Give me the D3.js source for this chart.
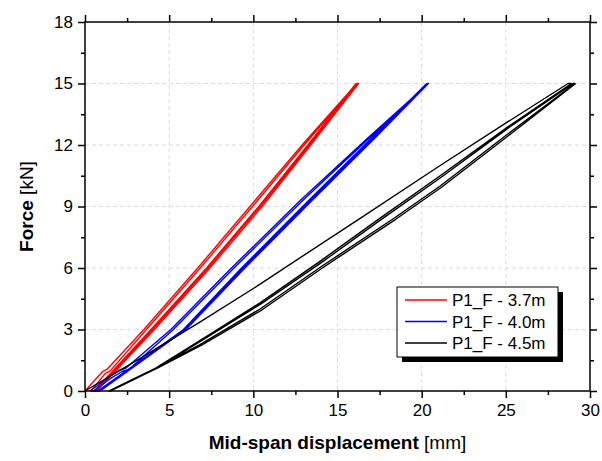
<!DOCTYPE html>
<html lang="en">
<head>
<meta charset="UTF-8">
<title>Force vs mid-span displacement</title>
<script src="https://d3js.org/d3.v7.min.js"></script>
<style>
  body { margin: 0; padding: 0; background: #fff; }
  svg { display: block; font-family: "Liberation Sans", Arial, sans-serif; }
</style>
</head>
<body>
<svg id="chart" width="602" height="461"></svg>
<script>
// Axis ticks
const xTicks = [0, 5, 10, 15, 20, 25, 30];
const yTicks = [0, 3, 6, 9, 12, 15, 18];

// Branches: [displacement mm, force kN]
// P1_F - 3.7m
const red1 = [[0,0],[1.03,0.94],[1.3,1.05],[3.5,3.0],[6.8,6.1],[9.9,9.1],[13.0,12.1],[16.15,15]];
const red2 = [[0.35,0],[1.2,0.85],[1.5,0.98],[3.65,3.0],[6.95,6.1],[10.05,9.1],[13.12,12.1],[16.15,15]];
const red3 = [[0.6,0],[4.0,3.0],[7.3,6.0],[10.5,9.1],[13.4,12.1],[16.2,15]];
const red4 = [[0.7,0],[4.12,3.0],[7.42,6.0],[10.62,9.1],[13.5,12.1],[16.25,15]];
const red5 = [[0.55,0],[3.92,3.0],[7.22,6.0],[10.42,9.1],[13.33,12.1],[16.1,15]];
// P1_F - 4.0m
const blue1 = [[0.3,0],[1.2,0.55],[2.0,1.0],[2.4,1.1],[5.1,3.0],[8.7,6.0],[12.8,9.3],[16.75,12.3],[20.4,15]];
const blue2 = [[0.5,0],[1.5,0.6],[2.2,0.95],[2.6,1.05],[5.25,3.0],[8.85,6.0],[12.95,9.3],[16.85,12.3],[20.4,15]];
const blue3 = [[0.8,0],[2.5,1.0],[5.9,3.0],[9.4,6.0],[13.4,9.3],[16.95,12.2],[20.35,15]];
const blue4 = [[0.9,0],[2.6,1.0],[6.0,3.0],[9.5,6.0],[13.5,9.3],[17.05,12.2],[20.4,15]];
const blue5 = [[0.75,0],[2.45,0.98],[5.85,3.0],[9.3,6.0],[13.3,9.3],[16.85,12.2],[20.3,15]];
// P1_F - 4.5m
const black1 = [[0,0],[3.3,1.6],[6.8,3.35],[10,5.0],[16.3,8.4],[21.1,11.0],[25.06,13.1],[28.7,15]];
const black2 = [[1.43,0],[4.2,1.12],[6.8,2.45],[10.4,4.3],[14,6.35],[17.3,8.3],[21.1,10.5],[25.06,12.85],[28.9,15]];
const black3 = [[1.43,0],[4.2,1.1],[6.8,2.25],[10.4,4.0],[14,6.05],[18.4,8.45],[21.1,10.0],[25.06,12.5],[29.1,15]];
const black4 = [[1.5,0],[4.25,1.1],[6.85,2.42],[10.5,4.27],[14.1,6.3],[17.4,8.25],[21.2,10.45],[25.1,12.8],[29.0,15]];
const black5 = [[1.45,0],[4.3,1.12],[6.9,2.22],[10.5,3.95],[14.1,6.0],[18.5,8.4],[21.2,9.95],[25.15,12.45],[29.15,15]];

const seriesNames = ["P1_F - 3.7m", "P1_F - 4.0m", "P1_F - 4.5m"];
const seriesColors = ["#ff0000", "#0000ff", "#000000"];
const seriesBranches = [
  [red1, red2, red3, red4, red5],
  [blue1, blue2, blue3, blue4, blue5],
  [black1, black2, black3, black4, black5]
];

const svg = d3.select("#chart");
const plot = { left: 85, right: 590, top: 22, bottom: 391 };

const x = d3.scaleLinear().domain([0, 30]).range([plot.left, plot.right]);
const y = d3.scaleLinear().domain([0, 18]).range([plot.bottom, plot.top]);

// dashed grid
const grid = svg.append("g").attr("stroke", "#dcdcdc").attr("stroke-dasharray", "4,3").attr("stroke-width", 1);
xTicks.slice(1, -1).forEach(t => {
  grid.append("line").attr("x1", x(t)).attr("x2", x(t)).attr("y1", plot.top).attr("y2", plot.bottom);
});
yTicks.slice(1, -1).forEach(t => {
  grid.append("line").attr("x1", plot.left).attr("x2", plot.right).attr("y1", y(t)).attr("y2", y(t));
});

// curves: loading branches forward, unloading branches reversed, chained into one path
const line = d3.line().x(d => x(d[0])).y(d => y(d[1]));
seriesBranches.forEach((branches, i) => {
  let pts = [];
  branches.forEach((b, j) => {
    pts = pts.concat(j % 2 === 0 ? b : b.slice().reverse());
  });
  svg.append("path")
    .attr("d", line(pts))
    .attr("fill", "none")
    .attr("stroke", seriesColors[i])
    .attr("stroke-width", 1.4)
    .attr("stroke-linejoin", "round");
});

// axes
const minorX = d3.range(0, 30.01, 2.5).filter(v => v % 5 !== 0);
const minorY = d3.range(0, 18.01, 1.5).filter(v => v % 3 !== 0);

function styleAxis(g) {
  g.selectAll(".domain").remove();
  g.selectAll("line").attr("stroke", "#000").attr("stroke-width", 1.5);
  g.selectAll("text").attr("font-size", 17).attr("fill", "#000");
}

svg.append("g").attr("transform", `translate(0,${plot.bottom})`)
  .call(d3.axisBottom(x).tickValues(xTicks).tickSize(7).tickPadding(6).tickFormat(d3.format("d")))
  .call(styleAxis);
svg.append("g").attr("transform", `translate(0,${plot.bottom})`)
  .call(d3.axisBottom(x).tickValues(minorX).tickSize(4).tickFormat(""))
  .call(styleAxis);
svg.append("g").attr("transform", `translate(${plot.left},0)`)
  .call(d3.axisLeft(y).tickValues(yTicks).tickSize(7).tickPadding(5).tickFormat(d3.format("d")))
  .call(styleAxis);
svg.append("g").attr("transform", `translate(${plot.left},0)`)
  .call(d3.axisLeft(y).tickValues(minorY).tickSize(4).tickFormat(""))
  .call(styleAxis);
svg.append("g").attr("transform", `translate(${plot.right},0)`)
  .call(d3.axisRight(y).tickValues(yTicks).tickSize(7).tickFormat(""))
  .call(styleAxis);
svg.append("g").attr("transform", `translate(${plot.right},0)`)
  .call(d3.axisRight(y).tickValues(minorY).tickSize(4).tickFormat(""))
  .call(styleAxis);
svg.append("g").attr("transform", `translate(0,${plot.top})`)
  .call(d3.axisTop(x).tickValues(xTicks).tickSize(7).tickFormat(""))
  .call(styleAxis);
svg.append("g").attr("transform", `translate(0,${plot.top})`)
  .call(d3.axisTop(x).tickValues(minorX).tickSize(4).tickFormat(""))
  .call(styleAxis);

// frame
svg.append("rect")
  .attr("x", plot.left).attr("y", plot.top)
  .attr("width", plot.right - plot.left).attr("height", plot.bottom - plot.top)
  .attr("fill", "none").attr("stroke", "#000").attr("stroke-width", 1.5);

// axis titles
const xt = svg.append("text")
  .attr("x", (plot.left + plot.right) / 2).attr("y", 449)
  .attr("text-anchor", "middle").attr("font-size", 19);
xt.append("tspan").attr("font-weight", "bold").text("Mid-span displacement");
xt.append("tspan").text(" [mm]");

const yt = svg.append("text")
  .attr("transform", `translate(33,${(plot.top + plot.bottom) / 2}) rotate(-90)`)
  .attr("text-anchor", "middle").attr("font-size", 19);
yt.append("tspan").attr("font-weight", "bold").text("Force");
yt.append("tspan").text(" [kN]");

// legend
const lg = { x: 397, y: 287, w: 161, h: 70 };
svg.append("rect").attr("x", lg.x + 5).attr("y", lg.y + 5).attr("width", lg.w).attr("height", lg.h).attr("fill", "#000");
svg.append("rect").attr("x", lg.x).attr("y", lg.y).attr("width", lg.w).attr("height", lg.h)
  .attr("fill", "#fff").attr("stroke", "#000").attr("stroke-width", 1);
seriesNames.forEach((name, i) => {
  const ry = lg.y + 13 + i * 21.5;
  svg.append("line").attr("x1", lg.x + 8).attr("x2", lg.x + 50).attr("y1", ry).attr("y2", ry)
    .attr("stroke", seriesColors[i]).attr("stroke-width", 1.5);
  svg.append("text").attr("x", lg.x + 55).attr("y", ry + 6).attr("font-size", 17).text(name);
});
</script>
</body>
</html>
